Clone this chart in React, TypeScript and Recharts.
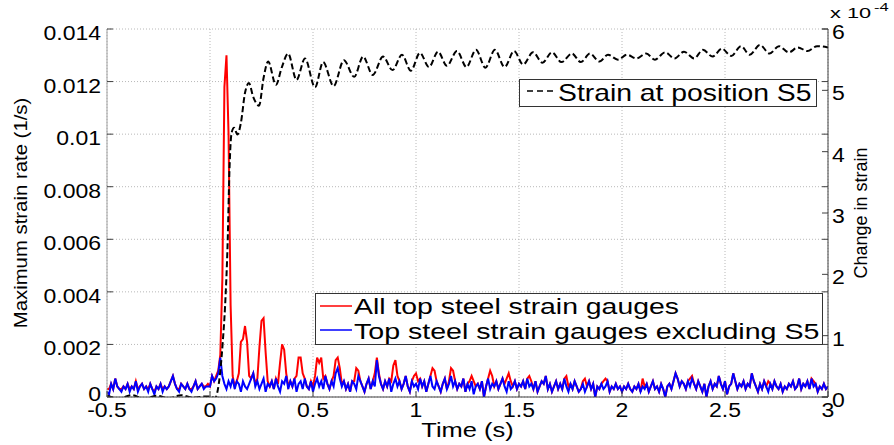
import { ComposedChart, Line, XAxis, YAxis, CartesianGrid, Legend } from "recharts";

// time axis
const TIME_TICKS = [-0.5, 0, 0.5, 1, 1.5, 2, 2.5, 3];
// left axis (strain rate, stored in units of 1e-4 1/s)
const RATE_TICKS = [0, 20, 40, 60, 80, 100, 120, 140];
// right axis (change in strain, units of 1e-4)
const STRAIN_TICKS = [0, 1, 2, 3, 4, 5, 6];

// strain-rate series sampled every 0.01 s from -0.5 s
const RATE_T0 = -0.5;
const RATE_DT = 0.01;

// Top steel strain gauges excluding S5 (x1e-4 1/s)
const BLUE = [
  2, 1, 5, 3, 7, 4, 3, 2, 4, 3,
  5, 2, 4, 3, 6, 2, 4, 5, 3, 4,
  2, 5, 3, 1, 4, 3, 5, 2, 4, 3,
  4, 6, 8, 5, 3, 2, 5, 4, 3, 5,
  3, 2, 4, 6, 3, 4, 5, 3, 4, 4,
  4, 8, 6, 7, 9, 15, 8, 5, 3, 6,
  4, 7, 3, 6, 5, 2, 6, 4, 3, 5,
  7, 9, 4, 6, 3, 5, 7, 2, 5, 4,
  6, 3, 7, 4, 2, 6, 5, 8, 3, 6,
  4, 7, 2, 5, 6, 3, 7, 4, 3, 6,
  2, 5, 7, 4, 6, 3, 8, 5, 3, 6,
  4, 9, 11, 7, 4, 6, 3, 5, 2, 6,
  5, 3, 8, 6, 4, 2, 5, 7, 3, 6,
  4, 14, 8, 5, 3, 6, 4, 7, 2, 5,
  7, 4, 6, 3, 5, 8, 4, 2, 6, 4,
  5, 3, 7, 4, 6, 2, 5, 8, 4, 3,
  6, 4, 2, 5, 7, 3, 5, 8, 4, 6,
  3, 5, 4, 7, 2, 5, 3, 6, 1, 4,
  5, 3, 6, 0, 4, 7, 3, 5, 4, 6,
  3, 5, 7, 4, 2, 6, 3, 4, 6, 3,
  5, 4, 6, 3, 7, 4, 5, 3, 6, 2,
  4, 6, 5, 8, 3, 5, 2, 4, 6, 3,
  5, 3, 7, 4, 2, 5, 3, 6, 4, 2,
  3, 5, 2, 4, 6, 3, 5, 0, 4, 3,
  5, 3, 4, 6, 2, 4, 3, 5, 3, 4,
  2, 4, 3, 5, 3, 2, 4, 3, 5, 2,
  4, 3, 5, 2, 4, 6, 3, 4, 2, 5,
  3, 0, 4, 5, 3, 6, 9, 7, 4, 6,
  5, 3, 6, 4, 7, 5, 3, 6, 4, 2,
  5, 0, 4, 6, 3, 5, 4, 8, 5, 3,
  6, 1, 4, 5, 9, 6, 3, 5, 4, 6,
  3, 5, 4, 9, 6, 4, 2, 5, 3, 6,
  4, 2, 5, 3, 6, 4, 3, 5, 2, 4,
  3, 5, 4, 6, 3, 4, 7, 3, 5, 4,
  6, 3, 7, 4, 5, 2, 4, 3, 5, 3,
  4,
];

// All top steel strain gauges (x1e-4 1/s)
const RED = [
  3, 3, 5, 3, 7, 4, 3, 3, 4, 3,
  5, 3, 4, 3, 6, 3, 4, 5, 3, 4,
  3, 5, 3, 2, 4, 3, 5, 3, 4, 3,
  4, 6, 8, 5, 3, 3, 5, 4, 3, 5,
  3, 3, 4, 6, 3, 4, 5, 4, 4, 5,
  4, 8, 6, 8, 10, 16, 45, 118, 130, 100,
  35, 8, 4, 6, 9, 21, 22, 27, 21, 8,
  7, 9, 5, 7, 19, 29, 30, 17, 6, 4,
  6, 3, 7, 5, 13, 20, 18, 9, 4, 6,
  4, 7, 8, 15, 15, 9, 7, 4, 3, 6,
  4, 8, 15, 13, 15, 7, 8, 5, 3, 6,
  8, 14, 15, 11, 5, 6, 3, 5, 2, 6,
  6, 11, 10, 6, 4, 2, 5, 7, 3, 6,
  9, 15, 9, 5, 3, 6, 4, 7, 6, 12,
  14, 8, 6, 3, 5, 8, 4, 2, 6, 8,
  9, 6, 7, 4, 6, 2, 5, 8, 11, 10,
  6, 4, 2, 5, 7, 3, 6, 11, 10, 6,
  3, 5, 4, 7, 2, 5, 6, 8, 6, 4,
  5, 3, 6, 0, 4, 7, 10, 8, 4, 6,
  3, 5, 7, 5, 7, 9, 6, 4, 6, 3,
  5, 4, 6, 3, 7, 8, 6, 3, 6, 2,
  4, 6, 5, 8, 3, 5, 2, 4, 6, 3,
  5, 3, 7, 8, 4, 5, 3, 6, 4, 2,
  3, 6, 7, 4, 6, 3, 5, 0, 4, 3,
  5, 6, 7, 6, 2, 4, 3, 5, 3, 4,
  2, 4, 3, 5, 3, 2, 4, 3, 5, 2,
  7, 4, 5, 2, 4, 6, 3, 4, 2, 5,
  3, 0, 4, 5, 3, 6, 9, 7, 4, 6,
  5, 3, 6, 7, 8, 5, 3, 6, 4, 2,
  5, 0, 4, 6, 3, 5, 4, 8, 5, 3,
  6, 1, 4, 5, 9, 6, 3, 5, 4, 6,
  3, 5, 4, 9, 6, 4, 2, 5, 3, 6,
  4, 6, 5, 3, 6, 4, 3, 5, 2, 4,
  3, 5, 4, 6, 3, 4, 7, 3, 5, 4,
  6, 3, 7, 6, 5, 2, 4, 3, 5, 3,
  4,
];

// Strain at position S5 (x1e-4), read at peaks / dips
const STRAIN_T = [
  -0.5, -0.44, -0.38, -0.32, -0.26, -0.2, -0.14, -0.08, -0.02, 0.01,
  0.024, 0.037, 0.049, 0.062, 0.073, 0.086, 0.094, 0.105, 0.117, 0.133,
  0.15, 0.17, 0.189, 0.209, 0.238, 0.26, 0.282, 0.32, 0.349, 0.379,
  0.42, 0.461, 0.51, 0.549, 0.6, 0.65, 0.7, 0.743, 0.79, 0.84,
  0.886, 0.932, 0.975, 1.019, 1.063, 1.107, 1.15, 1.199, 1.245, 1.291,
  1.337, 1.383, 1.43, 1.476, 1.52, 1.568, 1.614, 1.66, 1.706, 1.757,
  1.8, 1.845, 1.89, 1.932, 1.98, 2.024, 2.07, 2.117, 2.16, 2.209,
  2.255, 2.301, 2.35, 2.393, 2.44, 2.485, 2.53, 2.578, 2.62, 2.67,
  2.716, 2.762, 2.81, 2.854, 2.9, 2.947, 3.0,
];
const STRAIN_V = [
  0.02, -0.02, 0.03, -0.03, 0.02, -0.02, 0.03, -0.01, 0.01, 0.0,
  -0.02, 0.1, 0.39, 0.9, 1.47, 2.56, 3.65, 4.31, 4.39, 4.28,
  4.47, 4.96, 5.12, 4.9, 4.75, 5.2, 5.47, 5.09, 5.38, 5.6,
  5.17, 5.52, 5.05, 5.46, 5.07, 5.49, 5.22, 5.55, 5.25, 5.55,
  5.33, 5.58, 5.32, 5.61, 5.38, 5.63, 5.4, 5.64, 5.38, 5.66,
  5.37, 5.66, 5.38, 5.64, 5.42, 5.62, 5.45, 5.62, 5.46, 5.6,
  5.46, 5.6, 5.47, 5.58, 5.5, 5.58, 5.52, 5.6, 5.5, 5.62,
  5.52, 5.63, 5.52, 5.66, 5.55, 5.68, 5.56, 5.72, 5.58, 5.74,
  5.6, 5.72, 5.62, 5.7, 5.64, 5.72, 5.7,
];

const rateRows = (vals: number[]) =>
  vals.map((v, i) => ({ t: Math.round((RATE_T0 + i * RATE_DT) * 1000) / 1000, v }));
const redData = rateRows(RED);
const blueData = rateRows(BLUE);
const strainData = STRAIN_T.map((t, i) => ({ t, v: STRAIN_V[i] }));

const W = 894;
const H = 445;
const LEFT_W = 107;
const RIGHT_W = 66;
const TOP = 29;
const BOTTOM_H = 48;
const PLOT_W = W - LEFT_W - RIGHT_W;
const FONT = "'Liberation Sans', Arial, Helvetica, sans-serif";
const AXIS_DARK = "#404040";
const AXIS_LIGHT = "#a0a0a0";

// approximate Arial advance widths (em) so text can be stretched like the original
const CHAR_EM: Record<string, number> = {
  " ": 0.278, ".": 0.278, "-": 0.333, "(": 0.333, ")": 0.333, "/": 0.278,
  A: 0.667, C: 0.722, M: 0.833, S: 0.667, T: 0.611,
  c: 0.5, i: 0.222, l: 0.222, m: 0.833, r: 0.333, s: 0.5, t: 0.278, x: 0.5,
};
const emWidth = (s: string) => [...s].reduce((w, c) => w + (CHAR_EM[c] ?? 0.556), 0);

function SText({ x, y, text, size, stretch = 1, anchor = "start", rotate }: {
  x: number; y: number; text: string; size: number; stretch?: number;
  anchor?: "start" | "middle" | "end"; rotate?: number;
}) {
  return (
    <text
      x={x}
      y={y}
      fontSize={size}
      fontFamily={FONT}
      fill="#000"
      textAnchor={anchor}
      textLength={emWidth(text) * size * stretch}
      lengthAdjust="spacingAndGlyphs"
      transform={rotate ? `rotate(${rotate} ${x} ${y})` : undefined}
    >
      {text}
    </text>
  );
}

const TICK_SIZE = 20;
const TICK_STRETCH = 1.15;
const MARK = 6;

const BottomTick = ({ x, y, payload }: any) => (
  <g>
    <line x1={x} x2={x} y1={y} y2={y - MARK} stroke={AXIS_DARK} />
    <SText x={x} y={y + 20} text={String(payload.value)} size={TICK_SIZE} stretch={TICK_STRETCH} anchor="middle" />
  </g>
);

const TopTick = ({ x, y }: any) => (
  <line x1={x} x2={x} y1={y} y2={y + MARK} stroke={AXIS_DARK} />
);

const LeftTick = ({ x, y, payload }: any) => (
  <g>
    <line x1={x} x2={x + MARK} y1={y} y2={y} stroke={AXIS_DARK} />
    <line x1={x + PLOT_W} x2={x + PLOT_W - MARK} y1={y} y2={y} stroke={AXIS_DARK} />
    <SText
      x={x - 6}
      y={y + (payload.value === 0 ? 4 : 11)}
      text={String(payload.value / 10000)}
      size={TICK_SIZE}
      stretch={TICK_STRETCH}
      anchor="end"
    />
  </g>
);

const RightTick = ({ x, y, payload }: any) => (
  <g>
    <line x1={x} x2={x - MARK} y1={y} y2={y} stroke={AXIS_DARK} />
    <SText x={x + 4} y={y + 10} text={String(payload.value)} size={TICK_SIZE} stretch={TICK_STRETCH} />
  </g>
);

const LeftTitle = () => (
  <SText x={27} y={TOP + 184} text="Maximum strain rate (1/s)" size={18} stretch={1.13} anchor="middle" rotate={-90} />
);

const RightTitle = () => (
  <g>
    <SText x={867} y={TOP + 184} text="Change in strain" size={18} stretch={1.0} anchor="middle" rotate={-90} />
    <SText x={830} y={18} text="x 10" size={15} stretch={1.45} />
    <SText x={874} y={11} text="-4" size={11} stretch={1.5} />
  </g>
);

const BottomTitle = () => (
  <SText x={LEFT_W + PLOT_W / 2} y={437} text="Time (s)" size={21} stretch={1.2} anchor="middle" />
);

const LegendBoxes = () => (
  <svg width={W} height={H} style={{ position: "absolute", left: 0, top: 0, pointerEvents: "none" }}>
    <rect x={519.5} y={79.5} width={297} height={27} fill="#fff" stroke="#333" />
    <line x1={527} x2={556} y1={91} y2={91} stroke="#000" strokeWidth={1.5} strokeDasharray="6 4" />
    <SText x={558} y={101} text="Strain at position S5" size={24} stretch={1.18} />

    <rect x={315.5} y={293.5} width={507} height={51} fill="#fff" stroke="#333" />
    <line x1={320} x2={352} y1={306} y2={306} stroke="#ff0000" strokeWidth={1.5} />
    <SText x={354} y={314} text="All top steel strain gauges" size={22} stretch={1.29} />
    <line x1={320} x2={352} y1={330} y2={330} stroke="#0000ff" strokeWidth={1.5} />
    <SText x={354} y={339} text="Top steel strain gauges excluding S5" size={22} stretch={1.29} />
  </svg>
);

export default function App() {
  return (
    <div style={{ position: "absolute", left: 0, top: 0, width: W, height: H, background: "#fff" }}>
      <ComposedChart width={W} height={H} margin={{ top: TOP, right: 0, bottom: 0, left: 0 }}>
        <CartesianGrid xAxisId="time" yAxisId="rate" stroke="#b8b8b8" strokeDasharray="1 2" />
        <XAxis
          xAxisId="time"
          dataKey="t"
          type="number"
          domain={[-0.5, 3]}
          ticks={TIME_TICKS}
          interval={0}
          allowDataOverflow
          height={BOTTOM_H}
          tickSize={0}
          tickMargin={0}
          tickLine={false}
          tick={(p: any) => <BottomTick {...p} />}
          axisLine={{ stroke: AXIS_DARK }}
          label={<BottomTitle />}
        />
        <XAxis
          xAxisId="top"
          orientation="top"
          type="number"
          domain={[-0.5, 3]}
          ticks={TIME_TICKS}
          interval={0}
          allowDataOverflow
          height={0}
          tickSize={0}
          tickMargin={0}
          tickLine={false}
          tick={(p: any) => <TopTick {...p} />}
          axisLine={{ stroke: AXIS_LIGHT }}
        />
        <YAxis
          yAxisId="rate"
          orientation="left"
          width={LEFT_W}
          type="number"
          domain={[0, 140]}
          ticks={RATE_TICKS}
          interval={0}
          allowDataOverflow
          tickSize={0}
          tickMargin={0}
          tickLine={false}
          tick={(p: any) => <LeftTick {...p} />}
          axisLine={{ stroke: AXIS_LIGHT }}
          label={<LeftTitle />}
        />
        <YAxis
          yAxisId="strain"
          orientation="right"
          width={RIGHT_W}
          type="number"
          domain={[0, 6]}
          ticks={STRAIN_TICKS}
          interval={0}
          allowDataOverflow
          tickSize={0}
          tickMargin={0}
          tickLine={false}
          tick={(p: any) => <RightTick {...p} />}
          axisLine={{ stroke: AXIS_DARK }}
          label={<RightTitle />}
        />
        <Line
          xAxisId="time"
          yAxisId="rate"
          data={redData}
          dataKey="v"
          type="linear"
          stroke="#ff0000"
          strokeWidth={2}
          dot={false}
          activeDot={false}
          isAnimationActive={false}
        />
        <Line
          xAxisId="time"
          yAxisId="rate"
          data={blueData}
          dataKey="v"
          type="linear"
          stroke="#0000ff"
          strokeWidth={2}
          dot={false}
          activeDot={false}
          isAnimationActive={false}
        />
        <Line
          xAxisId="time"
          yAxisId="strain"
          data={strainData}
          dataKey="v"
          type="monotone"
          stroke="#000"
          strokeWidth={2}
          strokeDasharray="6 3"
          dot={false}
          activeDot={false}
          isAnimationActive={false}
        />
        <Legend
          verticalAlign="middle"
          align="center"
          layout="horizontal"
          wrapperStyle={{ left: 0, top: 0, width: W, height: H }}
          content={() => <LegendBoxes />}
        />
      </ComposedChart>
    </div>
  );
}
